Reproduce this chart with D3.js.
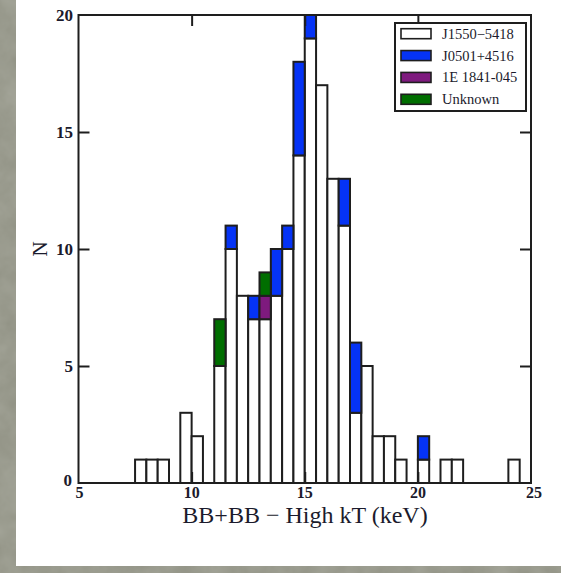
<!DOCTYPE html>
<html>
<head>
<meta charset="utf-8">
<script src="https://cdn.jsdelivr.net/npm/d3@7"></script>
<style>
  html, body { margin: 0; padding: 0; background: #8a8b7d; }
  svg { display: block; }
  text { font-family: "Liberation Serif", "DejaVu Serif", serif; fill: #1b1b2c; }
</style>
</head>
<body>
<svg id="chart" width="561" height="573"></svg>
<script>
// Left edges of the occupied 0.5 keV bins
const binStart = [7.5, 8.0, 8.5, 9.5, 10.0, 11.0, 11.5, 12.0, 12.5, 13.0, 13.5, 14.0, 14.5,
                  15.0, 15.5, 16.0, 16.5, 17.0, 17.5, 18.0, 18.5, 19.0, 20.0, 21.0, 21.5, 24.0];
const binWidth = 0.5;

// Counts per source, stacked in this order
const seriesNames = ["J1550\u22125418", "J0501+4516", "1E 1841-045", "Unknown"];
const seriesColors = ["#ffffff", "#0533f5", "#7e1a7e", "#006e00"];
const j1550   = [1, 1, 1, 3, 2, 5, 10, 8, 7, 7, 8, 10, 14, 19, 17, 13, 11, 3, 5, 2, 2, 1, 1, 1, 1, 1];
const j0501   = [0, 0, 0, 0, 0, 0,  1, 0, 1, 0, 2,  1,  4,  1,  0,  0,  2, 3, 0, 0, 0, 0, 1, 0, 0, 0];
const e1841   = [0, 0, 0, 0, 0, 0,  0, 0, 0, 1, 0,  0,  0,  0,  0,  0,  0, 0, 0, 0, 0, 0, 0, 0, 0, 0];
const unknown = [0, 0, 0, 0, 0, 2,  0, 0, 0, 1, 0,  0,  0,  0,  0,  0,  0, 0, 0, 0, 0, 0, 0, 0, 0, 0];

const xTicks = [5, 10, 15, 20, 25];
const yTicks = [0, 5, 10, 15, 20];

const svg = d3.select("#chart");

// textured stone backdrop
const defs = svg.append("defs");
const f = defs.append("filter").attr("id", "stone").attr("x", 0).attr("y", 0).attr("width", "100%").attr("height", "100%");
f.append("feTurbulence").attr("type", "fractalNoise").attr("baseFrequency", 0.035).attr("numOctaves", 4).attr("seed", 7).attr("result", "n");
f.append("feColorMatrix").attr("in", "n").attr("type", "matrix")
  .attr("values", "0 0 0 0 0.50  0 0 0 0 0.51  0 0 0 0 0.45  0.3 0.3 0.3 0 -0.15");
svg.append("rect").attr("width", 561).attr("height", 573).attr("fill", "#8b8c7e");
svg.append("rect").attr("width", 561).attr("height", 573).attr("filter", "url(#stone)");

// white page
svg.append("rect").attr("x", 16).attr("y", 0).attr("width", 545).attr("height", 566).attr("fill", "#ffffff");

const x = d3.scaleLinear().domain([5, 25]).range([78.5, 531]);
const y = d3.scaleLinear().domain([0, 20]).range([483, 15]);

const stack = d3.stack().keys([0, 1, 2, 3])
  .value((d, k) => d[k]);
const rows = binStart.map((b, i) => [j1550[i], j0501[i], e1841[i], unknown[i]]);
const layers = stack(rows);

const g = svg.append("g");
layers.forEach((layer, k) => {
  g.selectAll(null)
    .data(layer.map((seg, i) => ({ lo: seg[0], hi: seg[1], x0: binStart[i] })).filter(d => d.hi > d.lo))
    .join("rect")
    .attr("x", d => x(d.x0))
    .attr("y", d => y(d.hi))
    .attr("width", d => x(d.x0 + binWidth) - x(d.x0))
    .attr("height", d => y(d.lo) - y(d.hi))
    .attr("fill", seriesColors[k])
    .attr("stroke", "#1e1e1e")
    .attr("stroke-width", 2);
});

// frame
svg.append("rect")
  .attr("x", x(5)).attr("y", y(20))
  .attr("width", x(25) - x(5)).attr("height", y(0) - y(20))
  .attr("fill", "none").attr("stroke", "#1e1e1e").attr("stroke-width", 2);

// inward ticks via d3 axes on all four sides
const tl = 11;
svg.append("g").attr("transform", `translate(0,${y(0)})`)
  .call(d3.axisTop(x).tickValues([10, 15, 20]).tickSize(tl).tickFormat(""));
svg.append("g").attr("transform", `translate(0,${y(20)})`)
  .call(d3.axisBottom(x).tickValues([10, 15, 20]).tickSize(tl).tickFormat(""));
svg.append("g").attr("transform", `translate(${x(5)},0)`)
  .call(d3.axisRight(y).tickValues([5, 10, 15]).tickSize(tl).tickFormat(""));
svg.append("g").attr("transform", `translate(${x(25)},0)`)
  .call(d3.axisLeft(y).tickValues([5, 10, 15]).tickSize(tl).tickFormat(""));
svg.selectAll(".domain").remove();
svg.selectAll(".tick line").attr("stroke", "#1e1e1e").attr("stroke-width", 2);

// tick labels
svg.append("g").selectAll("text").data(xTicks).join("text")
  .attr("x", d => x(d) + (d === 25 ? 3 : (d === 5 ? 1 : 0)))
  .attr("y", 498)
  .attr("text-anchor", "middle")
  .attr("font-size", 16)
  .attr("font-weight", "bold")
  .text(d => d);
svg.append("g").selectAll("text").data(yTicks).join("text")
  .attr("x", d => d === 0 ? 72 : 73)
  .attr("y", d => d === 0 ? y(d) + 3 : y(d) + 6)
  .attr("text-anchor", "end")
  .attr("font-size", 17)
  .attr("font-weight", "bold")
  .text(d => d);

// axis titles
svg.append("text")
  .attr("x", 305).attr("y", 523)
  .attr("text-anchor", "middle")
  .attr("font-size", 24)
  .text("BB+BB \u2212 High kT (keV)");
svg.append("text")
  .attr("transform", `translate(47,${y(10)}) rotate(-90)`)
  .attr("text-anchor", "middle")
  .attr("font-size", 21)
  .text("N");

// legend
const lg = svg.append("g");
lg.append("rect")
  .attr("x", 395).attr("y", 23).attr("width", 131).attr("height", 88)
  .attr("fill", "#ffffff").attr("stroke", "#1e1e1e").attr("stroke-width", 2);
const rowY = d3.scalePoint().domain(d3.range(seriesNames.length)).range([33.7, 99.3]);
seriesNames.forEach((name, k) => {
  lg.append("rect")
    .attr("x", 401).attr("y", rowY(k) - 5).attr("width", 30).attr("height", 10)
    .attr("fill", seriesColors[k]).attr("stroke", "#1e1e1e").attr("stroke-width", 1.6);
  lg.append("text")
    .attr("x", 442).attr("y", rowY(k) + 5)
    .attr("font-size", 14.5)
    .text(name);
});
</script>
</body>
</html>
